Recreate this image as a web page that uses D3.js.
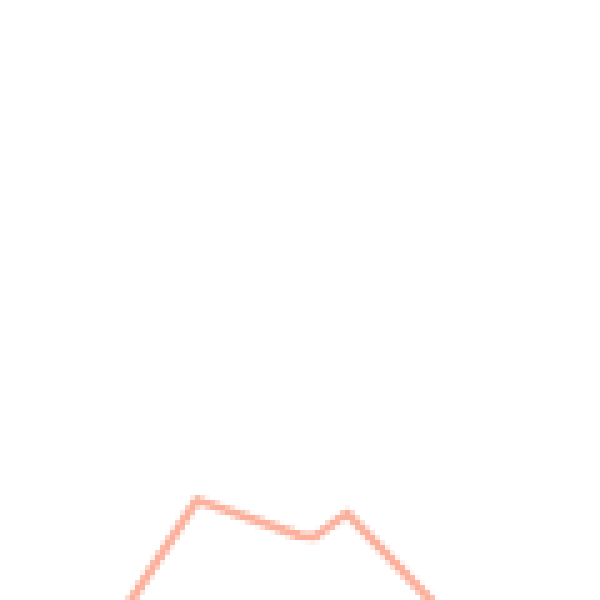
<!DOCTYPE html>
<html>
<head>
<meta charset="utf-8">
<script src="https://cdn.jsdelivr.net/npm/d3@7"></script>
<style>
  body { margin: 0; background: #fff; }
  canvas { display: block; width: 600px; height: 600px; image-rendering: pixelated; }
</style>
</head>
<body>
<div id="my_dataviz"></div>
<script>
// series values
var xValues = [2.5, 3.94, 6.0, 6.3, 6.94, 8.8];
var yValues = [-0.2, 2.0, 1.28, 1.26, 1.74, -0.2];

// low resolution canvas, blown up 5x
var res = 120;

var canvas = d3.select("#my_dataviz")
  .append("canvas")
    .attr("width", res)
    .attr("height", res);
var ctx = canvas.node().getContext("2d");

var x = d3.scaleLinear()
  .domain([0, 12])
  .range([0, res]);

var y = d3.scaleLinear()
  .domain([0, 12])
  .range([res, 0]);

var data = xValues.map(function(d, i) { return {x: d, y: yValues[i]}; });

var line = d3.line()
  .x(function(d) { return x(d.x); })
  .y(function(d) { return y(d.y); })
  .context(ctx);

ctx.beginPath();
line(data);
ctx.lineWidth = 1.8;
ctx.lineJoin = "round";
ctx.strokeStyle = "#fcb09c";
ctx.stroke();
</script>
</body>
</html>
